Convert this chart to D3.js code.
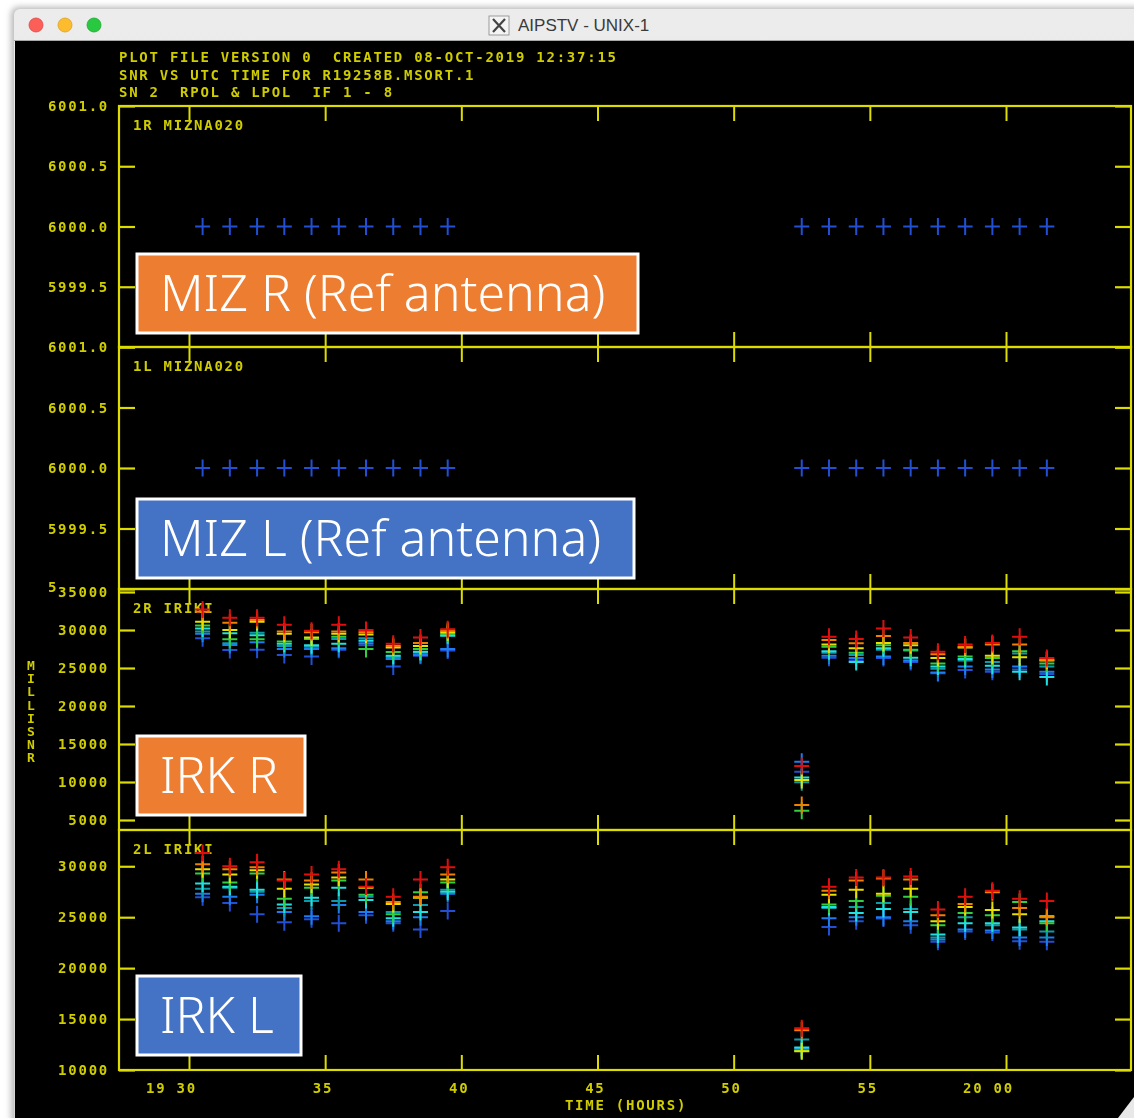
<!DOCTYPE html>
<html><head><meta charset="utf-8">
<script src="https://cdn.jsdelivr.net/npm/d3@7"></script>
<style>html,body{margin:0;padding:0;background:#fff;overflow:hidden} text{white-space:pre}</style>
</head><body><svg id="c" width="1134" height="1118"></svg>
<script>
// ---------------- DATA ----------------
const times = [30.5,31.5,32.5,33.5,34.5,35.5,36.5,37.5,38.5,39.5,52.5,53.5,54.5,55.5,56.5,57.5,58.5,59.5,60.5,61.5]; // minutes after 19h
const refSnr = 6000.0;

// IRK R (2R IRIKI), millisnr per IF
const irkR_IF1 = [28900,27370,27400,26700,26500,27400,28000,25200,26600,27300,11350,26350,26000,26300,25800,24300,24750,24500,24800,24200];
const irkR_IF2 = [29500,28030,28400,27500,27500,27600,28250,26200,26700,27500,12670,26600,26300,26500,26000,24400,25200,24800,25200,24500];
const irkR_IF3 = [29800,28250,29650,27900,27800,28800,28900,26400,27000,29200,9960,27000,26700,27400,27300,24900,26000,25800,26900,25200];
const irkR_IF4 = [30200,29560,29300,28200,28000,28200,28600,26600,27150,29300,10600,27200,25800,27600,26360,25200,26200,25300,24500,23800];
const irkR_IF5 = [30600,28770,28770,28500,28800,29100,27500,27100,27500,29500,6220,27800,27000,28000,27400,25600,26500,26300,27200,25600];
const irkR_IF6 = [31100,30000,31100,29500,29000,29500,29400,27700,27900,29700,10260,28100,27600,28300,28000,26300,27700,26600,26400,26000];
const irkR_IF7 = [32400,30960,31300,29800,29700,29800,29700,27900,28300,29900,6970,28700,28250,29200,28300,26800,27800,28100,28100,26100];
const irkR_IF8 = [32700,31620,31600,30700,29900,30700,30000,28200,29000,30100,12100,29100,28800,30200,29000,27150,28100,28300,29100,26300];

// IRK L (2L IRIKI)
const irkL_IF1 = [26950,26400,25300,24500,24800,24400,25200,24400,23800,25600,12000,24050,24600,24870,24200,22600,23600,23500,22650,22580];
const irkL_IF2 = [27300,27000,27200,25500,25100,26200,25500,24600,25000,27300,12100,24900,25000,25000,24600,22800,23800,23700,23000,23000];
const irkL_IF3 = [27800,27900,27500,25900,26600,26600,27000,25500,26200,27700,13000,25900,26000,26400,25800,23000,25000,24200,23800,23600];
const irkL_IF4 = [28300,28000,27700,26250,26900,27900,26700,24900,25500,27500,12200,26000,25400,25800,25500,23300,24400,24400,24000,24600];
const irkL_IF5 = [29300,28400,29300,26800,27900,28600,27200,25300,27450,28400,11900,26250,26600,27100,27000,24200,25400,25200,26500,24400];
const irkL_IF6 = [29700,29200,29600,27800,28200,28900,27900,26300,26900,28700,11850,27200,27700,27300,27800,24600,26000,25700,25300,25100];
const irkL_IF7 = [30200,29700,29900,28700,28600,29400,28700,26500,27000,29200,13900,27600,28600,28800,28700,25200,26300,27450,25900,25000];
const irkL_IF8 = [31300,30000,30400,28600,29200,29700,28000,27000,28700,29900,14100,28000,28900,28900,29000,25750,27000,27600,26800,26600];

const xTickValues = [30,35,40,45,50,55,60];
const xTickLabels = ["19 30","35","40","45","50","55","20 00"];
const refTicks = [5999.0,5999.5,6000.0,6000.5,6001.0];
const irkRTicks = [5000,10000,15000,20000,25000,30000,35000];
const irkLTicks = [10000,15000,20000,25000,30000];
const panelNames = ["1R MIZNA020","1L MIZNA020","2R IRIKI","2L IRIKI"];
const headerLines = ["PLOT FILE VERSION 0  CREATED 08-OCT-2019 12:37:15","SNR VS UTC TIME FOR R19258B.MSORT.1","SN 2  RPOL & LPOL  IF 1 - 8"];
const xTitle = "TIME (HOURS)";
const yTitle = "MILLISNR";
const annotations = ["MIZ R (Ref antenna)","MIZ L (Ref antenna)","IRK R","IRK L"];
const windowTitle = "AIPSTV - UNIX-1";

// ---------------- STYLE / LAYOUT ----------------
const ifColors = ["#2050d4","#1a7cf0","#109aa8","#22e0e0","#30d040","#e6e000","#f08000","#e01010"];
const textCol = "#cfcc00", lineCol = "#dcdc00";
const aipsFont = "'DejaVu Sans Mono', monospace";
const svg = d3.select("#c");
const W = 1134, H = 1118;

// window chrome
svg.append("rect").attr("width",W).attr("height",H).attr("fill","#ffffff");
const defs = svg.append("defs");
const tg = defs.append("linearGradient").attr("id","tb").attr("x1",0).attr("x2",0).attr("y1",0).attr("y2",1);
tg.append("stop").attr("offset","0%").attr("stop-color","#ececec");
tg.append("stop").attr("offset","100%").attr("stop-color","#d6d6d6");
const sh = defs.append("filter").attr("id","sh").attr("x","-5%").attr("y","-5%").attr("width","110%").attr("height","110%");
sh.append("feGaussianBlur").attr("stdDeviation",3);
const bl = defs.append("filter").attr("id","bl");
bl.append("feGaussianBlur").attr("stdDeviation",0.45);

svg.append("rect").attr("x",11).attr("y",7).attr("width",W).attr("height",H).attr("rx",7).attr("fill","#b8b8b8").attr("filter","url(#sh)");
svg.append("rect").attr("x",14).attr("y",9).attr("width",W).attr("height",H).attr("rx",6).attr("fill","url(#tb)");
svg.append("line").attr("x1",14).attr("x2",W).attr("y1",40.5).attr("y2",40.5).attr("stroke","#a9a9a9");
svg.append("rect").attr("x",15).attr("y",41).attr("width",W-15).attr("height",H-41).attr("fill","#000");
[["#fc5f57","#df4744",36],["#fdbc2e","#dea123",65],["#28c840","#1aab29",94]].forEach(d=>{
  svg.append("circle").attr("cx",d[2]).attr("cy",25).attr("r",7).attr("fill",d[0]).attr("stroke",d[1]).attr("stroke-width",0.8);
});
// X icon + title
const xi = svg.append("g").attr("transform","translate(489,16)");
xi.append("rect").attr("width",20).attr("height",19).attr("fill","#f4f4f4").attr("stroke","#888").attr("stroke-width",0.8);
xi.append("path").attr("d","M4,3 L16,16 M16,3 L4,16").attr("stroke","#444").attr("stroke-width",2.2);
svg.append("text").attr("x",518).attr("y",31).attr("font-family","'Liberation Sans', Arial, sans-serif")
  .attr("font-size",17).attr("fill","#3a3a3a").text(windowTitle);

// ---------------- AIPS PLOT ----------------
const g = svg.append("g").attr("filter","url(#bl)");
const x = d3.scaleLinear().domain([27.43, 64.59]).range([119, 1131]);

const panels = [
  {name:panelNames[0], top:106, bot:347, domain:[5999.0,6001.0], ticks:refTicks, fmt:d3.format(".1f"), series:[Array(times.length).fill(refSnr)], single:true, hideBottom:true},
  {name:panelNames[1], top:347, bot:589, domain:[5999.0,6001.0], ticks:refTicks, fmt:d3.format(".1f"), series:[Array(times.length).fill(refSnr)], single:true, firstCharBottom:true},
  {name:panelNames[2], top:589, bot:830, domain:[3684,35395], ticks:irkRTicks, fmt:d3.format("d"),
    series:[irkR_IF1,irkR_IF2,irkR_IF3,irkR_IF4,irkR_IF5,irkR_IF6,irkR_IF7,irkR_IF8]},
  {name:panelNames[3], top:830, bot:1070, domain:[10000,33560], ticks:irkLTicks, fmt:d3.format("d"),
    series:[irkL_IF1,irkL_IF2,irkL_IF3,irkL_IF4,irkL_IF5,irkL_IF6,irkL_IF7,irkL_IF8]}
];

const labelLayer = g.append("g");
const charW = 10.18;
function aipsText(sel, txt, xx, yy, anchor){
  return sel.append("text").attr("x",xx).attr("y",yy).attr("text-anchor",anchor||"start")
    .attr("font-family",aipsFont).attr("font-weight","bold").attr("font-size",14)
    .attr("letter-spacing","1.75px").attr("fill",textCol).attr("dominant-baseline","central").text(txt);
}

panels.forEach((p,i)=>{
  const y = d3.scaleLinear().domain(p.domain).range([p.bot,p.top]);
  p.y = y;
  const pg = g.append("g");
  pg.append("rect").attr("x",119).attr("y",p.top).attr("width",1131-119).attr("height",p.bot-p.top)
    .attr("fill","none").attr("stroke",lineCol).attr("stroke-width",2.2);
  pg.append("g").attr("transform",`translate(0,${p.top})`)
    .call(d3.axisTop(x).tickValues(xTickValues).tickSize(-15).tickFormat(""))
    .call(a=>{a.select(".domain").remove(); a.selectAll("line").attr("stroke",lineCol).attr("stroke-width",2);});
  pg.append("g").attr("transform",`translate(0,${p.bot})`)
    .call(d3.axisBottom(x).tickValues(xTickValues).tickSize(-15).tickFormat(""))
    .call(a=>{a.select(".domain").remove(); a.selectAll("line").attr("stroke",lineCol).attr("stroke-width",2);});
  pg.append("g").attr("transform","translate(119,0)")
    .call(d3.axisLeft(y).tickValues(p.ticks).tickSize(-16).tickFormat(""))
    .call(a=>{a.select(".domain").remove(); a.selectAll("line").attr("stroke",lineCol).attr("stroke-width",2.2);});
  pg.append("g").attr("transform","translate(1131,0)")
    .call(d3.axisRight(y).tickValues(p.ticks).tickSize(-16).tickFormat(""))
    .call(a=>{a.select(".domain").remove(); a.selectAll("line").attr("stroke",lineCol).attr("stroke-width",2.2);});
  // y labels
  p.ticks.forEach((v,k)=>{
    const s = p.fmt(v);
    if(k===0 && p.hideBottom) return;               // covered by next panel's top label
    if(k===0 && p.firstCharBottom){                 // only first glyph peeks out from under next label
      aipsText(labelLayer, s[0], 109 - s.length*charW, y(v)-2, "start");
      return;
    }
    aipsText(labelLayer, s, 109, y(v), "end");
  });
  aipsText(pg, p.name, 133, p.top+19, "start");
});

// data markers
const plus = "M-7.5,0H7.5M0,-8.5V8.5";
panels.forEach(p=>{
  const mg = g.append("g");
  p.series.forEach((vals,k)=>{
    mg.selectAll(null).data(times.map((t,j)=>({t, v:vals[j]}))).join("path")
      .attr("d",plus).attr("transform",d=>`translate(${x(d.t)},${p.y(d.v)})`)
      .attr("fill","none").attr("stroke", p.single ? ifColors[0] : ifColors[k]).attr("stroke-width",2);
  });
});
labelLayer.raise();

// header
headerLines.forEach((s,i)=> aipsText(g, s, 119, 57 + i*17.5, "start"));
// x labels
xTickValues.forEach((v,i)=> aipsText(g, xTickLabels[i], x(v)+8, 1088, "end"));
aipsText(g, xTitle, 626, 1105, "middle");
// y title (stacked letters in one text)
const yt = g.append("text").attr("font-family",aipsFont).attr("font-weight","bold").attr("font-size",13)
  .attr("fill",textCol).attr("text-anchor","middle").attr("dominant-baseline","central");
yTitle.split("").forEach((c,i)=> yt.append("tspan").attr("x",31).attr("y",665 + i*13.2).text(c));

// annotation boxes
const boxes = [
  {x:137,y:254,w:501,h:79,fill:"#ed7d31"},
  {x:137,y:499,w:497,h:79,fill:"#4472c4"},
  {x:137,y:736,w:168,h:79,fill:"#ed7d31"},
  {x:137,y:976,w:164,h:79,fill:"#4472c4"}
];
boxes.forEach((b,i)=>{
  svg.append("rect").attr("x",b.x).attr("y",b.y).attr("width",b.w).attr("height",b.h)
    .attr("fill",b.fill).attr("stroke","#ffffff").attr("stroke-width",3);
  svg.append("text").attr("x",b.x+23).attr("y",b.y+b.h/2+17).attr("font-family","'Noto Sans', 'Open Sans', sans-serif")
    .attr("font-size",50).attr("font-weight",300).attr("fill","#ffffff").text(annotations[i]);
});
svg.append("path").attr("d","M1134,1097 L1134,1118 L1118,1118 Z").attr("fill","#e8e8e8");
</script></body></html>
